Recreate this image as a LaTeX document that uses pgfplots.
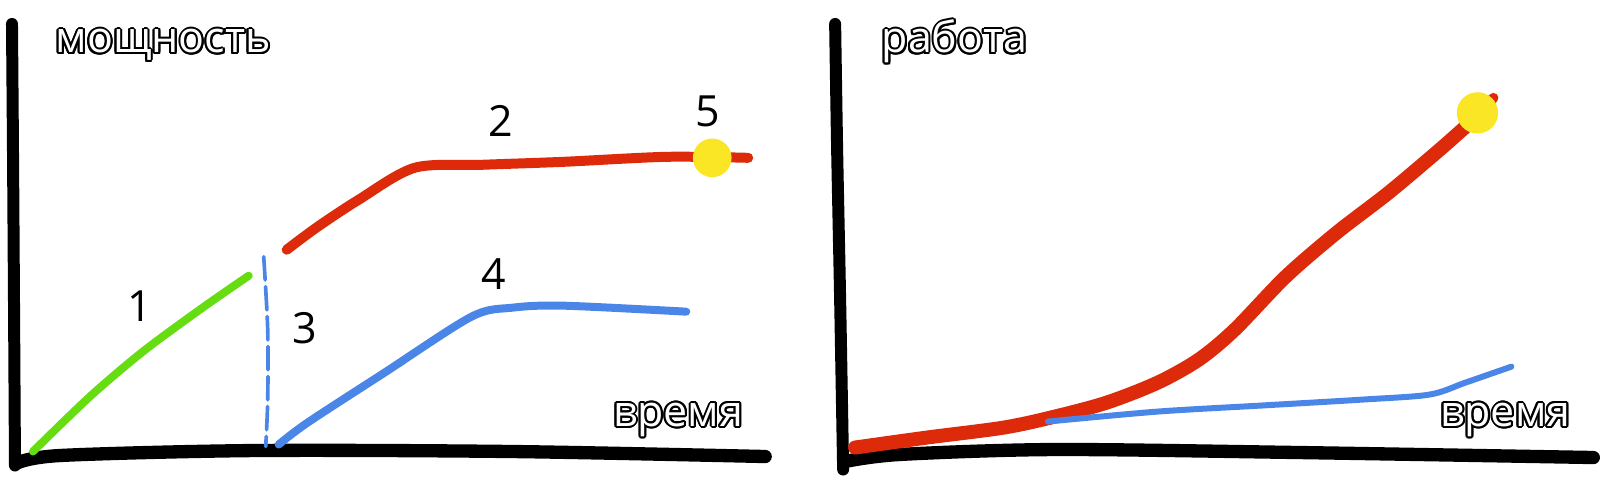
\documentclass[border=0pt]{standalone}
\usepackage{fontspec}
\setmainfont{Open Sans}
\usepackage{pgfplots}
\pgfplotsset{compat=1.18}
\usepackage{contour}
\contourlength{0.6pt}
\definecolor{redl}{HTML}{DD2A0A}
\definecolor{greenl}{HTML}{66DD11}
\definecolor{bluel}{HTML}{4A86E8}
\definecolor{yel}{HTML}{FBE625}
\newcommand\lbl{\fontsize{12.9}{15}\selectfont}
\newcommand\otext[1]{\contour{black}{\textcolor{white}{#1}}}
\pgfplotsset{panel/.style={scale only axis, width=240pt, height=143.7pt,
  ymin=0, ymax=479, y dir=reverse, hide axis, clip=false,
  every axis plot/.append style={line cap=round, line join=round}}}
\begin{document}
\begin{tikzpicture}
% ---------------- left panel: power vs time
\begin{axis}[panel, at={(0pt,0pt)}, anchor=south west, xmin=0, xmax=800]
\addplot[draw=none] coordinates {(0,0) (800,479)};
\addplot[black, line width=3.6pt, smooth] coordinates {(12,24) (13,150) (14,300) (15,466)};
\addplot[black, line width=4.0pt, smooth] coordinates {(16,464) (60,456) (256,451) (513,452) (766,457)};
\addplot[greenl, line width=2.4pt, smooth] coordinates {(33,452) (90,397) (143,352) (200,310) (249,276)};
\addplot[bluel, line width=1.1pt, dash pattern=on 7pt off 2pt, smooth] coordinates {(264,257) (268,330) (268,400) (266,447)};
\addplot[redl, line width=3.0pt, smooth] coordinates {(287,250) (318,227) (359,200) (415,168) (482,165) (564,162) (667,157) (749,158)};
\addplot[bluel, line width=2.4pt, smooth] coordinates {(279,445) (308,423) (385,373) (472,317) (513,308) (564,306) (687,312)};
\addplot[only marks, color=yel, mark=*, mark size=5.6pt, mark options={draw=yel, fill=yel}] coordinates {(713,158)};
\node[anchor=base west, inner sep=0pt] at (axis cs:55,53) {\lbl\otext{мощность}};
\node[anchor=base west, inner sep=0pt] at (axis cs:613,427) {\lbl\otext{время}};
\node[inner sep=0pt] at (axis cs:140,306) {\lbl 1};
\node[inner sep=0pt] at (axis cs:501,121) {\lbl 2};
\node[inner sep=0pt] at (axis cs:305,329) {\lbl 3};
\node[inner sep=0pt] at (axis cs:494,274) {\lbl 4};
\node[inner sep=0pt] at (axis cs:709,112) {\lbl 5};
\end{axis}
% ---------------- right panel: work vs time
\begin{axis}[panel, at={(240pt,0pt)}, anchor=south west, xmin=800, xmax=1600]
\addplot[draw=none] coordinates {(800,0) (1600,479)};
\addplot[black, line width=3.6pt, smooth] coordinates {(836,24) (838,150) (841,300) (844,470)};
\addplot[black, line width=4.0pt, smooth] coordinates {(846,462) (900,455) (1056,450) (1300,453) (1595,458)};
\addplot[redl, line width=4.2pt, smooth] coordinates {(856,448) (928,438) (1005,428) (1056,417) (1108,403) (1159,383) (1200,360) (1236,330) (1287,277) (1338,233) (1390,193) (1441,150) (1467,127)};
\addplot[redl, line width=3.0pt, smooth] coordinates {(1460,133) (1480,114) (1495,98)};
\addplot[bluel, line width=1.8pt, smooth] coordinates {(1049,422) (1159,412) (1262,406) (1364,400) (1431,395) (1467,383) (1513,367)};
\addplot[only marks, color=yel, mark=*, mark size=6pt, mark options={draw=yel, fill=yel}] coordinates {(1479,113)};
\node[anchor=base west, inner sep=0pt] at (axis cs:882,53) {\lbl\otext{работа}};
\node[anchor=base west, inner sep=0pt] at (axis cs:1441,427) {\lbl\otext{время}};
\end{axis}
\end{tikzpicture}
\end{document}
